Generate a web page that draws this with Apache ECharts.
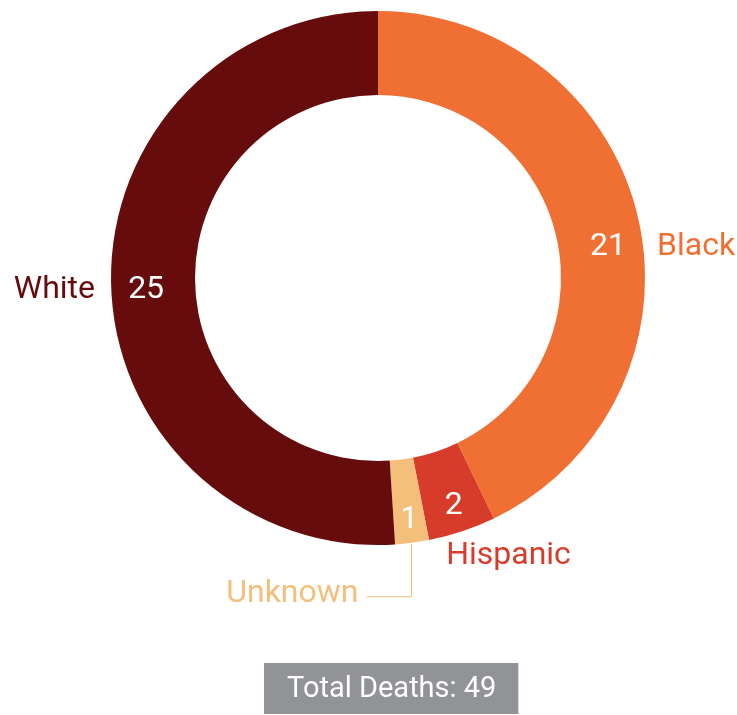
<!DOCTYPE html>
<html>
<head>
<meta charset="utf-8">
<script src="https://cdn.jsdelivr.net/npm/echarts@6/dist/echarts.min.js"></script>
<style>
  html, body { margin: 0; padding: 0; background: #ffffff; }
  #chart { width: 737px; height: 715px; }
</style>
</head>
<body>
<div id="chart"></div>
<script>
// ---- data ----
const categories = ['Black', 'Hispanic', 'Unknown', 'White'];
const deaths = [21, 2, 1, 25];
const totalPrefix = 'Total Deaths: ';

// ---- style ----
const sliceColors = ['#F07034', '#D73C2A', '#F4BF7A', '#660C0C'];
const CX = 378, CY = 278, R0 = 183, R1 = 267;
const FONT = 'Roboto';
const FS = 32;

const total = deaths.reduce((a, b) => a + b, 0);

function midAngle(i) {
  let before = 0;
  for (let k = 0; k < i; k++) before += deaths[k];
  return ((before + deaths[i] / 2) / total) * Math.PI * 2; // clockwise from top
}
function polar(r, a) { return [CX + r * Math.sin(a), CY - r * Math.cos(a)]; }

// label placement tweaks (style only)
const innerRadius = [236, 240, 244, 232];
const innerNudge = [[0, 22], [0, 0], [0, 0], [0, 5]];

function innerPos(i) {
  const p = polar(innerRadius[i], midAngle(i));
  return [p[0] + innerNudge[i][0], p[1] + innerNudge[i][1]];
}

const chart = echarts.init(document.getElementById('chart'), null, { renderer: 'canvas' });

const pieData = categories.map((c, i) => ({
  name: c,
  value: deaths[i],
  itemStyle: { color: sliceColors[i] }
}));

const outerData = categories.map((c, i) => ({
  name: c,
  value: deaths[i],
  itemStyle: { color: 'rgba(0,0,0,0)' },
  label: { color: sliceColors[i] },
  labelLine: { show: c === 'Unknown', lineStyle: { color: sliceColors[i], width: 1 } }
}));

chart.setOption({
  animation: false,
  title: {
    text: totalPrefix + total,
    left: 264,
    top: 663,
    backgroundColor: '#929396',
    padding: [12, 22, 10, 23],
    textStyle: { color: '#ffffff', fontFamily: FONT, fontWeight: 'normal', fontSize: 29, lineHeight: 29 }
  },
  series: [
    {
      type: 'pie',
      center: [CX, CY],
      radius: [R0, R1],
      startAngle: 90,
      clockwise: true,
      silent: true,
      data: pieData,
      itemStyle: { borderWidth: 0 },
      label: {
        show: true,
        position: 'inside',
        formatter: '{c}',
        color: '#ffffff',
        fontFamily: FONT,
        fontSize: FS
      },
      labelLine: { show: false },
      labelLayout: function (params) {
        const p = innerPos(params.dataIndex);
        return { x: p[0], y: p[1], align: 'center', verticalAlign: 'middle' };
      }
    },
    {
      type: 'pie',
      center: [CX, CY],
      radius: [R0, R1],
      startAngle: 90,
      clockwise: true,
      silent: true,
      z: 3,
      data: outerData,
      label: {
        show: true,
        position: 'outside',
        formatter: '{b}',
        fontFamily: FONT,
        fontSize: FS,
        overflow: 'none',
        width: 200
      },
      labelLine: { show: true },
      labelLayout: function (params) {
        const i = params.dataIndex;
        const a = midAngle(i);
        const edge = polar(R1, a);
        const name = categories[i];
        if (name === 'Black') {
          return { x: CX + R1 + 12, y: innerPos(i)[1], align: 'left', verticalAlign: 'middle' };
        }
        if (name === 'White') {
          return { x: CX - R1 - 16, y: innerPos(i)[1], align: 'right', verticalAlign: 'middle' };
        }
        if (name === 'Hispanic') {
          return { x: edge[0] - 16, y: edge[1] + 25, align: 'left', verticalAlign: 'middle' };
        }
        // Unknown: line down then left
        const lx = Math.round(edge[0]) - 0.5;
        const ly = edge[1] + 54;
        return {
          x: lx - 53, y: ly - 3, align: 'right', verticalAlign: 'middle',
          labelLinePoints: [[lx, edge[1] + 1], [lx, ly], [lx - 45, ly]]
        };
      }
    }
  ]
});
</script>
</body>
</html>
